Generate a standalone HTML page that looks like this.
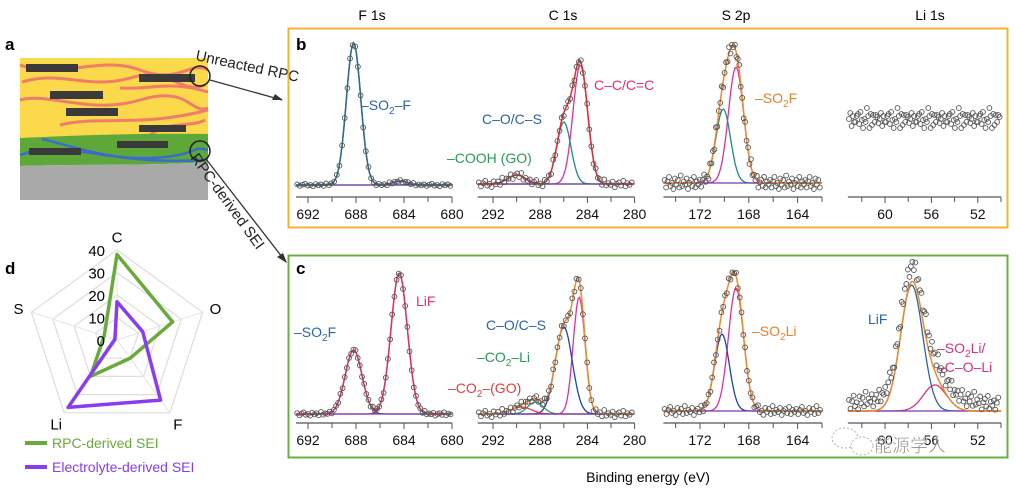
<!DOCTYPE html>
<html><head><meta charset="utf-8">
<style>
html,body{margin:0;padding:0;background:#fff;}
svg{display:block;font-family:"Liberation Sans","Noto Sans CJK SC",sans-serif;}
</style></head>
<body>
<svg id="fig" width="1016" height="489" viewBox="0 0 1016 489" xmlns="http://www.w3.org/2000/svg">
  <g>
    <text x="5" y="50" font-size="17" font-weight="bold">a</text>
    <rect x="20" y="58" width="188" height="80" fill="#fcd94a"/>
    <g fill="none" stroke="#ee7d6a" stroke-width="3">
      <path d="M20 65 C60 80,100 55,140 70 S190 60,208 70"/>
      <path d="M22 82 C60 70,90 90,130 78 S180 95,205 85"/>
      <path d="M20 100 C50 92,90 115,140 100 S190 115,208 108"/>
      <path d="M60 125 C100 115,140 128,208 110"/>
      <path d="M120 88 C150 90,170 80,208 92"/>
      <path d="M150 135 C170 120,190 128,205 120"/>
    </g>
    <g fill="#3a3a3a">
      <rect x="26" y="64" width="52" height="8"/>
      <rect x="139" y="74" width="56" height="8"/>
      <rect x="50" y="91" width="53" height="8"/>
      <rect x="66" y="108" width="52" height="8"/>
      <rect x="139" y="125" width="47" height="7"/>
    </g>
    <path d="M20 138 C80 135,150 133,208 134 L208 162 C150 166,80 164,20 166Z" fill="#5ea83a"/>
    <g fill="none" stroke="#3a6ccc" stroke-width="2.5">
      <path d="M20 155 C60 140,100 160,150 158 S190 145,208 150"/>
      <path d="M42 139 C80 148,120 165,205 160"/>
    </g>
    <rect x="29" y="148" width="52" height="7" fill="#3a3a3a"/>
    <rect x="117" y="141" width="51" height="7" fill="#3a3a3a"/>
    <path d="M20 166 C80 164,150 166,208 162 L208 200 L20 200Z" fill="#a9a9a9"/>
    <circle cx="200" cy="76" r="10" fill="none" stroke="#222" stroke-width="1.5"/>
    <circle cx="200" cy="151" r="10" fill="none" stroke="#222" stroke-width="1.5"/>
    <line x1="210" y1="80" x2="282" y2="100" stroke="#333" stroke-width="1.3"/>
    <path d="M283 100 L272 100 L275 94Z" fill="#333"/>
    <line x1="206" y1="159" x2="286" y2="262" stroke="#333" stroke-width="1.3"/>
    <path d="M287 263 L277 257 L283 253Z" fill="#333"/>
    <text transform="translate(195,60) rotate(12)" font-size="15" fill="#222">Unreacted RPC</text>
    <text transform="translate(190,158) rotate(54)" font-size="15" fill="#222">RPC-derived SEI</text>
  </g>

  <rect x="288.5" y="28.5" width="719" height="199" fill="none" stroke="#f2b630" stroke-width="2"/>
  <rect x="288.5" y="255.5" width="719" height="202" fill="none" stroke="#6cae44" stroke-width="2"/>
  <text x="296" y="50" font-size="17" font-weight="bold">b</text>
  <text x="296" y="274" font-size="17" font-weight="bold">c</text>
  <text x="372" y="20" font-size="14" text-anchor="middle">F 1s</text>
  <text x="563" y="20" font-size="14" text-anchor="middle">C 1s</text>
  <text x="736" y="20" font-size="14" text-anchor="middle">S 2p</text>
  <text x="930" y="20" font-size="14" text-anchor="middle">Li 1s</text>
  <text x="648" y="482" font-size="14" text-anchor="middle">Binding energy (eV)</text>

  <g id="plots"></g>

  <g font-size="14">
    <text x="361" y="110" fill="#2a64a8">–SO<tspan font-size="10" dy="4">2</tspan><tspan dy="-4">–F</tspan></text>
    <text x="482" y="124" fill="#2a64a8">C–O/C–S</text>
    <text x="447" y="163" fill="#2a9a5a">–COOH (GO)</text>
    <text x="594" y="90" fill="#e0307a">C–C/C=C</text>
    <text x="755" y="103" fill="#e8802a">–SO<tspan font-size="10" dy="4">2</tspan><tspan dy="-4">F</tspan></text>
    <text x="294" y="337" fill="#2a64a8">–SO<tspan font-size="10" dy="4">2</tspan><tspan dy="-4">F</tspan></text>
    <text x="416" y="306" fill="#e0307a">LiF</text>
    <text x="486" y="330" fill="#2a64a8">C–O/C–S</text>
    <text x="477" y="362" fill="#2a9a5a">–CO<tspan font-size="10" dy="4">2</tspan><tspan dy="-4">–Li</tspan></text>
    <text x="448" y="393" fill="#e83a40">–CO<tspan font-size="10" dy="4">2</tspan><tspan dy="-4">–(GO)</tspan></text>
    <text x="752" y="336" fill="#e8802a">–SO<tspan font-size="10" dy="4">2</tspan><tspan dy="-4">Li</tspan></text>
    <text x="868" y="324" fill="#2a64a8">LiF</text>
    <text x="937" y="353" fill="#e0307a">–SO<tspan font-size="10" dy="4">2</tspan><tspan dy="-4">Li/</tspan></text>
    <text x="937" y="372" fill="#e0307a">–C–O–Li</text>
  </g>

  <g opacity="0.75">
    <ellipse cx="845" cy="438" rx="13" ry="10" fill="#fff" stroke="#999" stroke-dasharray="2 2"/>
    <ellipse cx="862" cy="446" rx="11" ry="9" fill="#fff" stroke="#999" stroke-dasharray="2 2"/>
    <text x="874" y="452" font-size="18" fill="#444" stroke="#fff" stroke-width="0.6">能源学人</text>
  </g>

  <text x="5" y="274" font-size="17" font-weight="bold">d</text>
  <g id="radar"></g>
  <g>
    <line x1="25" y1="443" x2="47" y2="443" stroke="#6aaa3a" stroke-width="4"/>
    <text x="52" y="448" font-size="14" fill="#6aaa3a">RPC-derived SEI</text>
    <line x1="25" y1="467" x2="47" y2="467" stroke="#8a3cf0" stroke-width="4"/>
    <text x="52" y="472" font-size="14" fill="#8a3cf0">Electrolyte-derived SEI</text>
  </g>
</svg>
<script>
// ---------- XPS data: peak components [center eV, height, sigma eV, colour] ----------
const bF1sPeaks = [[688.2,142,0.6,'#2a64a8'],[684.3,4,0.6,'#2a9a5a']];
const bC1sPeaks = [[284.6,119,0.62,'#e0309a'],[286.0,62,0.6,'#1f8a8a'],[290.0,9,0.75,'#2a9a5a']];
const bS2pPeaks = [[169.05,116,0.62,'#e0309a'],[170.1,74,0.6,'#1f8a8a']];
const bLi1sPeaks = [];
const cF1sPeaks = [[688.2,64,0.7,'#2a4aa8'],[684.4,141,0.68,'#e0306a']];
const cC1sPeaks = [[284.7,117,0.5,'#e0309a'],[286.0,87,0.72,'#2040b0'],[288.4,12,0.65,'#2aa070'],[289.6,7,0.85,'#e83a40']];
const cS2pPeaks = [[169.05,123,0.62,'#e0309a'],[170.2,77,0.6,'#2040b0']];
const cLi1sPeaks = [[57.7,126,0.95,'#2a64a8'],[55.7,26,1.0,'#e0307a']];
const jitter = [2,-3,1,4,-2,0,-4,3,-1,2,-3,5,-2,1,-1,3,-4,0,2,-2,4,-3,1,-1];
const liBLevel = [0,5,-4,8,1,-6,3,10,-2,6,0,-7,4,1,12,3,-3,8,0,5,-5,2,7,-2];
const ticksF = [692,688,684,680], ticksC = [292,288,284,280], ticksS = [172,168,164], ticksLi = [60,56,52];

const NS='http://www.w3.org/2000/svg';
const plots=document.getElementById('plots');
function mk(tag,attrs,parent){const e=document.createElementNS(NS,tag);for(const k in attrs)e.setAttribute(k,attrs[k]);(parent||plots).appendChild(e);return e;}
function gauss(x,p){return p[1]*Math.exp(-0.5*Math.pow((x-p[0])/p[2],2));}

function panel(name,ax,peaks,ticks,envColor,noiseAmp,flat){
  const g=mk('g',{});
  
  
  const xs=e=>ax.x0+(ax.e0-e)*ax.k;
  const ys=v=>ax.base-v;
  const al=mk('line',{x1:xs(ax.lo),x2:xs(ax.hi),y1:ax.axisY,y2:ax.axisY,stroke:'#555','stroke-width':1.2},g);
  
  
  for(let e=Math.ceil(ax.hi);e<=Math.floor(ax.lo);e++){
    const big=ticks.includes(e);
    mk('line',{x1:xs(e),x2:xs(e),y1:ax.axisY,y2:ax.axisY+(e%2===0?5:0)+(big?1:0),stroke:'#555','stroke-width':1},g);
  }
  ticks.forEach(t=>{const tx=mk('text',{x:xs(t),y:ax.axisY+22,'font-size':14,'text-anchor':'middle',fill:'#111'},g);tx.textContent=t;
    
    });
  const step=0.12;
  peaks.forEach((p,i)=>{let d='';for(let e=ax.lo;e>=ax.hi;e-=step){d+=(d?'L':'M')+xs(e).toFixed(1)+' '+ys(gauss(e,p)).toFixed(1);}
    const pa=mk('path',{d:d,fill:'none',stroke:p[3],'stroke-width':1.3},g);
    
    });
  if(peaks.length){
    const bl=mk('line',{x1:xs(ax.lo),x2:xs(ax.hi),y1:ax.base,y2:ax.base,stroke:'#7a3ab0','stroke-width':1.3},g);
    
    
    let d='';for(let e=ax.lo;e>=ax.hi;e-=step){let s=0;peaks.forEach(p=>s+=gauss(e,p));d+=(d?'L':'M')+xs(e).toFixed(1)+' '+ys(s).toFixed(1);}
    const en=mk('path',{d:d,fill:'none',stroke:envColor,'stroke-width':1.5},g);
    
    }
  let i=0;
  for(let e=ax.lo-0.1;e>=ax.hi+0.1;e-=ax.pstep){let s=0;peaks.forEach(p=>s+=gauss(e,p));
    if(flat!==undefined) s=flat+liBLevel[i%liBLevel.length]+jitter[(i*7)%jitter.length];
    else s+=jitter[i%jitter.length]*noiseAmp+(ax.tail?ax.tail(e):0);
    const c=mk('circle',{cx:xs(e).toFixed(1),cy:ys(s).toFixed(1),r:2.4,fill:'none',stroke:'#555','stroke-width':0.9},g);
    
    
    i++;}
}
panel('b-f1s',{x0:308,e0:692,k:12,lo:693,hi:680,axisY:197,base:185,pstep:0.22},bF1sPeaks,ticksF,'#2a6a8a',0.3);
panel('b-c1s',{x0:493,e0:292,k:11.8,lo:293.3,hi:280,axisY:197,base:184,pstep:0.18},bC1sPeaks,ticksC,'#e82a2a',0.8);
panel('b-s2p',{x0:700,e0:172,k:12.2,lo:175,hi:162,axisY:197,base:183,pstep:0.12},bS2pPeaks,ticksS,'#f08a2a',1.5);
panel('b-li1s',{x0:885,e0:60,k:11.6,lo:63.2,hi:50,axisY:197,base:183,pstep:0.11},bLi1sPeaks,ticksLi,'#f08a2a',1,62);
panel('c-f1s',{x0:308,e0:692,k:12,lo:693,hi:680,axisY:423,base:414,pstep:0.18},cF1sPeaks,ticksF,'#e0306a',0.4);
panel('c-c1s',{x0:493,e0:292,k:11.8,lo:293.3,hi:280,axisY:423,base:414,pstep:0.18},cC1sPeaks,ticksC,'#f08a2a',0.8);
panel('c-s2p',{x0:700,e0:172,k:12.2,lo:175,hi:162,axisY:423,base:411,pstep:0.15},cS2pPeaks,ticksS,'#f08a2a',1);
panel('c-li1s',{x0:885,e0:60,k:11.6,lo:63.2,hi:50,axisY:423,base:411,pstep:0.13,tail:e=>16*Math.exp(-Math.pow((e-57)/7,2))},cLi1sPeaks,ticksLi,'#f08a2a',1.8);

// ---------- radar data ----------
const radarAxes = ['C','O','F','Li','S'];
const rpcSEI = [38,26,10,20,6];
const electrolyteSEI = [17,12,33,37,1];
const radarTicks = [0,10,20,30,40];
const radar=document.getElementById('radar');
const cx=117, cy=340, R=90, vmax=40;
function pt(i,v){const a=-Math.PI/2+i*2*Math.PI/5;const r=v/vmax*R;return [cx+r*Math.cos(a),cy+r*Math.sin(a)];}
[10,20,30,40].forEach(t=>{const pts=radarAxes.map((_,i)=>pt(i,t).map(n=>n.toFixed(1)).join(',')).join(' ');
  const pg=mk('polygon',{points:pts,fill:'none',stroke:'#ddd','stroke-width':1.2},radar);
  
  });
radarAxes.forEach((n,i)=>{const [x,y]=pt(i,40);const l=mk('line',{x1:cx,y1:cy,x2:x,y2:y,stroke:'#e4e4e4','stroke-width':1},radar);
  
  
  const [lx,ly]=pt(i,46);const t=mk('text',{x:lx,y:ly+6,'font-size':15,'text-anchor':'middle'},radar);t.textContent=n;
  
  });
function series(vals,color,name){const pts=vals.map((v,i)=>pt(i,v).map(n=>n.toFixed(1)).join(',')).join(' ');
  const pg=mk('polygon',{points:pts,fill:'none',stroke:color,'stroke-width':3.5,'stroke-linejoin':'round'},radar);
  
  }
series(rpcSEI,'#6aaa3a','radar-series-rpc-sei');
series(electrolyteSEI,'#8a3cf0','radar-series-electrolyte-sei');
radarTicks.forEach(t=>{const [x,y]=pt(0,t);const tx=mk('text',{x:x-12,y:y+6,'font-size':15,'text-anchor':'end'},radar);tx.textContent=t;
  
  });
</script>
</body></html>
